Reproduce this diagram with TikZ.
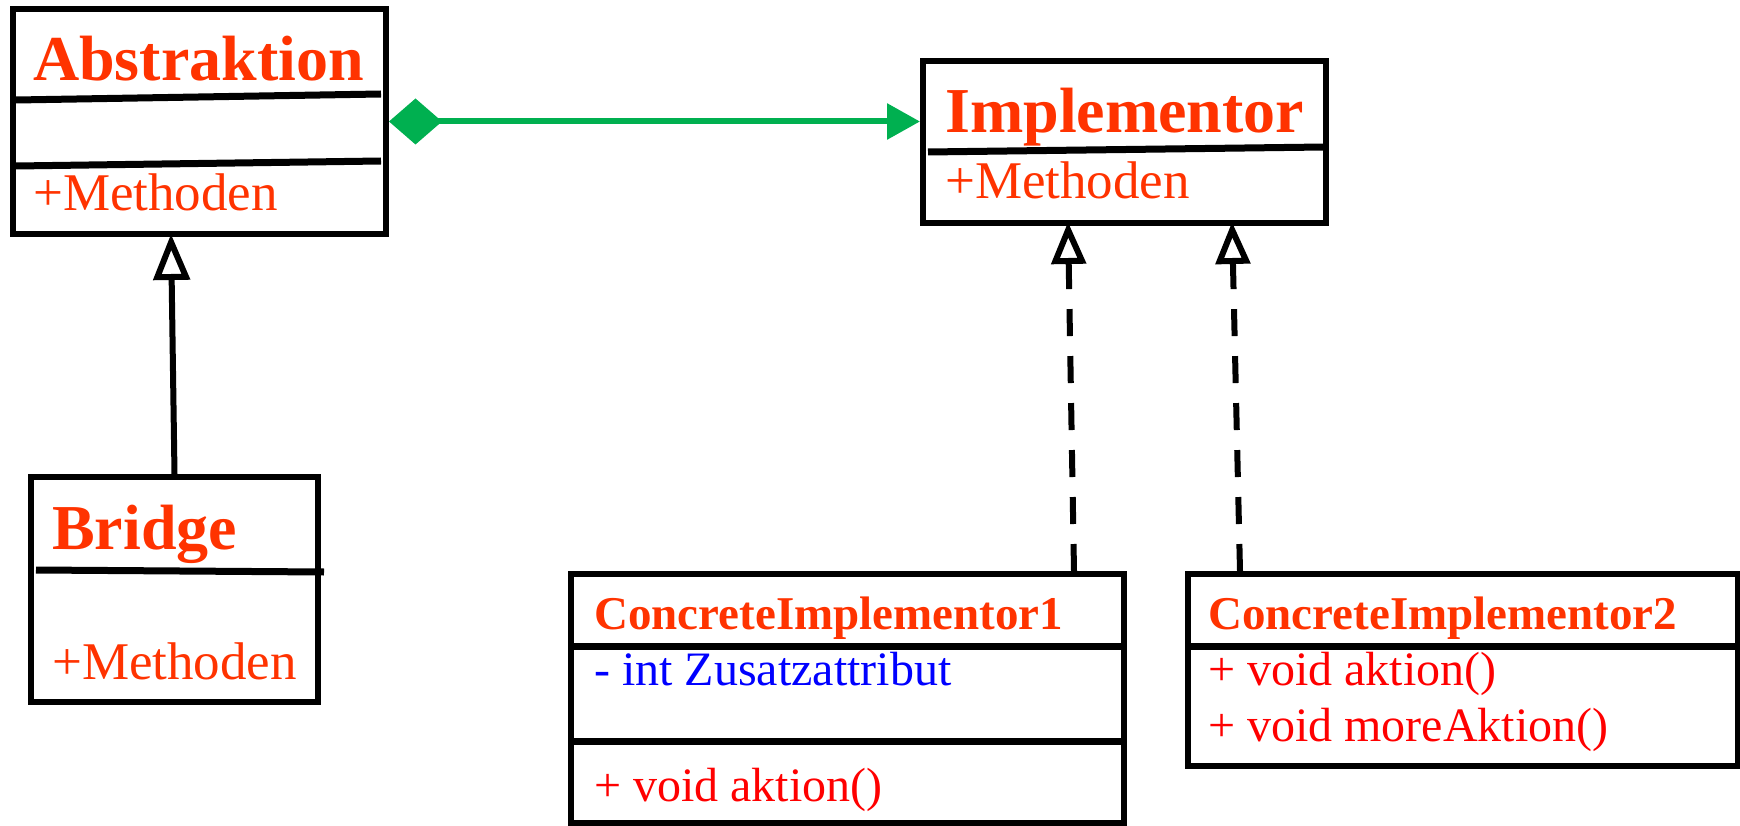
\documentclass[tikz,border=0pt]{standalone}
\usepackage{fontspec}
\setmainfont{Liberation Serif}
\usetikzlibrary{arrows.meta}
\definecolor{titlec}{RGB}{255,51,0}
\definecolor{memc}{RGB}{255,0,0}
\definecolor{attc}{RGB}{0,0,255}
\definecolor{assocc}{RGB}{0,176,80}
\begin{document}
\begin{tikzpicture}[x=1pt,y=-1pt,
  umlbox/.style={draw=black, line width=6pt, rectangle, inner sep=0pt, fill=white},
  divider/.style={draw=black, line width=7pt},
  bigtitle/.style={anchor=base west, inner sep=0pt, text=titlec, font=\fontsize{64}{70}\selectfont\bfseries},
  smalltitle/.style={anchor=base west, inner sep=0pt, text=titlec, font=\fontsize{47}{52}\selectfont\bfseries},
  methods/.style={anchor=base west, inner sep=0pt, text=titlec, font=\fontsize{53}{58}\selectfont},
  member/.style={anchor=base west, inner sep=0pt, text=memc, font=\fontsize{48}{52}\selectfont},
  attrib/.style={anchor=base west, inner sep=0pt, text=attc, font=\fontsize{48}{52}\selectfont},
  comp/.style={draw=assocc, line width=6pt, {Diamond[length=53pt,width=46pt]}-{Triangle[length=33pt,width=35pt]}},
  inh/.style={draw=black, line width=6pt, line join=round, -{Triangle[open,length=46pt,width=36pt]}},
  realiz/.style={draw=black, line width=6pt, line join=round, dash pattern=on 27pt off 20pt, -{Triangle[open,length=42pt,width=34pt]}}
]
\useasboundingbox (0,0) rectangle (1740,826);

% boxes
\node[umlbox, minimum width=373pt, minimum height=225pt] (abs) at (199.5,121.5) {};
\node[umlbox, minimum width=403pt, minimum height=162pt] (impl) at (1124.5,142) {};
\node[umlbox, minimum width=287pt, minimum height=225pt] (bridge) at (174.5,589.5) {};
\node[umlbox, minimum width=553pt, minimum height=249pt] (ci1) at (847.5,698.5) {};
\node[umlbox, minimum width=550pt, minimum height=192pt] (ci2) at (1463,670) {};

% dividers
\draw[divider] (16,100) -- (381,94);
\draw[divider] (16,166) -- (381,161);
\draw[divider] (928,152) -- (1324,147);
\draw[divider] (36,570) -- (324,572);
\draw[divider] (571,646) -- (1124,646);
\draw[divider] (571,741) -- (1124,741);
\draw[divider] (1188,646) -- (1738,646);

% texts
\node[bigtitle] (absT) at (33,81) {Abstraktion};
\node[methods] (absM) at (33,211) {+Methoden};
\node[bigtitle] (implT) at (945,133) {Implementor};
\node[methods] (implM) at (945,199) {+Methoden};
\node[bigtitle] (bridgeT) at (52,549) {Bridge};
\node[methods] (bridgeM) at (52,679) {+Methoden};
\node[smalltitle] (ci1T) at (594,629) {ConcreteImplementor1};
\node[attrib] (ci1A) at (594,685) {- int Zusatzattribut};
\node[member] (ci1M) at (594,801) {+ void aktion()};
\node[smalltitle] (ci2T) at (1208,629) {ConcreteImplementor2};
\node[member] (ci2M1) at (1208,685) {+ void aktion()};
\node[member] (ci2M2) at (1208,741) {+ void moreAktion()};

% connectors
\draw[comp] (abs.east) -- (abs.east -| impl.west);
\coordinate (absB) at (171,234);
\draw[inh] (bridge.north) -- (absB);
\coordinate (c1t) at (1074,571);
\coordinate (i1b) at (1068,222);
\draw[realiz] (c1t) -- (i1b);
\coordinate (c2t) at (1240,571);
\coordinate (i2b) at (1232,222);
\draw[realiz] (c2t) -- (i2b);
\end{tikzpicture}
\end{document}
